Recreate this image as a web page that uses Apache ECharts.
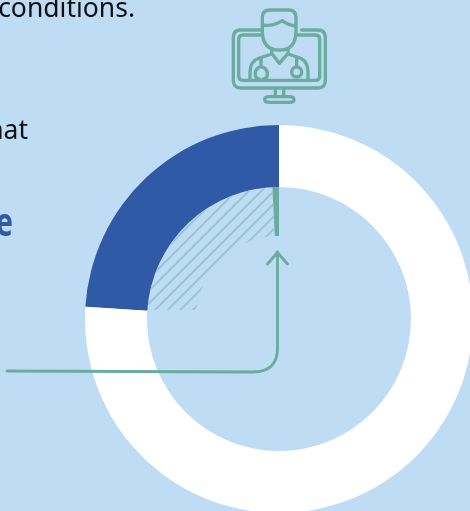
<!DOCTYPE html>
<html>
<head>
<meta charset="utf-8">
<style>html,body{margin:0;padding:0;background:#bedcf4;overflow:hidden}#c{width:470px;height:511px}</style>
<script src="https://cdn.jsdelivr.net/npm/echarts@6/dist/echarts.min.js"></script>
</head>
<body>
<div id="c"></div>
<script>
// Share of the ring (percent)
const ringLabels = ['Share', 'Remainder'];
const ringValues = [24, 76];
// Inner wedge: small solid part, hatched rest of the same share, empty remainder
const wedgeLabels = ['Solid', 'Hatched', 'Empty'];
const wedgeValues = [0.8, 23.2, 76];
const captionLines = ['conditions.', 'that'];
const emphasisWord = 'e';

const BG = '#bedcf4', BLUE = '#3059a6', GREEN = '#6aad9e', HATCH = '#97c7d1';

// 45-degree hatch as a chart-sized fill; it stops flat at the level of the ring's cut edge
function hatchFill() {
  const step = 12.6, phase = 11.4, cutY = 310;
  const cv = document.createElement('canvas');
  cv.width = 470;
  cv.height = 511;
  const g = cv.getContext('2d');
  g.beginPath();
  g.rect(0, 0, 470, cutY);
  g.clip();
  g.strokeStyle = HATCH;
  g.lineWidth = 2;
  for (let k = 0; k <= 80; k++) {
    const c = k * step + phase;
    g.beginPath();
    g.moveTo(c + 2, -2);
    g.lineTo(-2, c + 2);
    g.stroke();
  }
  return cv;
}

function pieSeries(radius, labels, values, colors) {
  return {
    type: 'pie', center: [279, 319], radius, startAngle: 90, clockwise: false,
    silent: true, label: {show: false}, labelLine: {show: false}, emphasis: {disabled: true},
    data: values.map((v, i) => ({name: labels[i], value: v, itemStyle: {color: colors[i]}}))
  };
}

// SVG-style outlines become graphic shape types
function pathElement(name, d, style) {
  echarts.graphic.registerShape(name, echarts.graphic.extendPath(d, {}));
  return {type: name, shape: {}, z: 10, style};
}

// Physician-on-a-monitor icon, path units are a third of a pixel
const iconPaths = [
  'M125 90 H62 Q40 90 40 112 V240 Q40 264 62 264 H294 Q316 264 316 240 V112 Q316 90 294 90 H245',
  'M125 105 H70 Q56 105 56 119 V228 Q56 241 70 241 H286 Q299 241 299 228 V119 Q299 105 286 105 H228',
  'M166 266 V290 M191 266 V290',
  'M148 290 H208 Q222 290 222 299 Q222 307 208 307 H148 Q134 307 134 299 Q134 290 148 290 Z',
  'M127 75 V52 Q127 30 150 30 H205 Q228 30 228 52 V92 Q228 150 178 150 Q127 150 127 92 V75 Q160 80 187 62 Q205 76 228 78',
  'M155 146 V160 L178 190 L204 160 V146',
  'M155 162 L118 174 Q90 184 90 215 V241',
  'M204 162 L240 174 Q264 184 264 215 V241',
  'M123 176 V200 Q106 204 106 222 Q106 237 118 237 M123 200 Q142 204 142 222 Q142 237 130 237',
  'M230 176 V200'
];

const iconStyle = {fill: null, stroke: GREEN, lineWidth: 10, lineCap: 'round', lineJoin: 'round'};
const iconChildren = iconPaths.map((d, i) => pathElement('iconPart' + i, d, iconStyle));
iconChildren.push({
  type: 'circle', z: 10, shape: {cx: 230, cy: 216, r: 15},
  style: {fill: null, stroke: GREEN, lineWidth: 10}
});

const chart = echarts.init(document.getElementById('c'), null, {renderer: 'canvas'});
chart.setOption({
  animation: false,
  backgroundColor: BG,
  series: [
    pieSeries([132, 194], ringLabels, ringValues, [BLUE, '#ffffff']),
    pieSeries([83, 132], wedgeLabels, wedgeValues, [GREEN, {image: hatchFill(), repeat: 'no-repeat'}, 'rgba(0,0,0,0)'])
  ],
  graphic: [
    {type: 'text', z: 10, x: 135, y: 9, style: {text: captionLines[0], textAlign: 'right', textVerticalAlign: 'middle', font: '26.5px "Noto Sans"', fill: '#111'}},
    {type: 'text', z: 10, x: 28, y: 131, style: {text: captionLines[1], textAlign: 'right', textVerticalAlign: 'middle', font: '26.5px "Noto Sans"', fill: '#111'}},
    {type: 'text', z: 10, x: 13, y: 225, scaleX: 0.72, style: {text: emphasisWord, textAlign: 'right', textVerticalAlign: 'middle', font: 'bold 40px "Noto Sans"', fill: BLUE}},
    {type: 'group', x: 220, y: 0, scaleX: 1 / 3, scaleY: 1 / 3, children: iconChildren},
    pathElement('connector', 'M7 371 L253 372 Q277.5 372 277.5 348 V252', {fill: null, stroke: GREEN, lineWidth: 2.8, lineCap: 'round'}),
    pathElement('arrowHead', 'M267.5 264 L277.5 252.5 L287.5 264', {fill: null, stroke: GREEN, lineWidth: 2.8, lineCap: 'round'})
  ]
});
</script>
</body>
</html>
